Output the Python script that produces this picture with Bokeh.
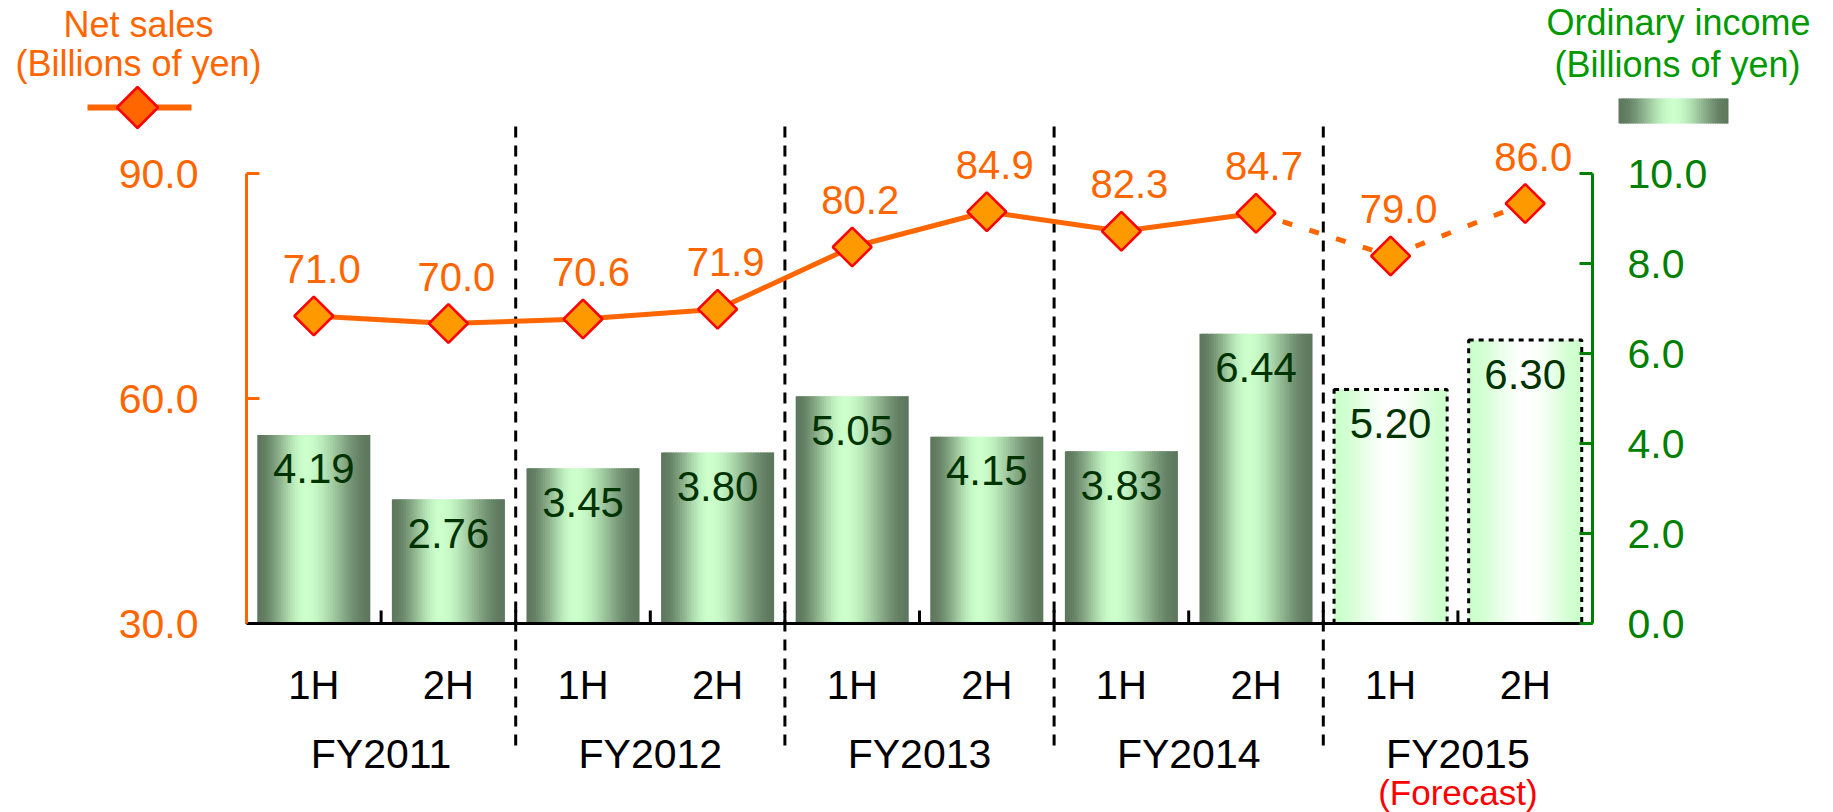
import math
from bokeh.plotting import figure
from bokeh.models import Range1d
from bokeh.core.properties import value
from bokeh.embed import file_html
from bokeh.resources import INLINE

# ---------------- data ----------------
halves = ["1H", "2H", "1H", "2H", "1H", "2H", "1H", "2H", "1H", "2H"]
fiscal_years = ["FY2011", "FY2012", "FY2013", "FY2014", "FY2015"]
net_sales = [71.0, 70.0, 70.6, 71.9, 80.2, 84.9, 82.3, 84.7, 79.0, 86.0]
ordinary_income = [4.19, 2.76, 3.45, 3.80, 5.05, 4.15, 3.83, 6.44, 5.20, 6.30]
forecast_start = 8            # first forecast half-year index
ns_ticks = [30.0, 60.0, 90.0]
oi_ticks = [0.0, 2.0, 4.0, 6.0, 8.0, 10.0]
forecast_note = "(Forecast)"
ns_title = ["Net sales", "(Billions of yen)"]
oi_title = ["Ordinary income", "(Billions of yen)"]

# ---------------- layout / style ----------------
FONT = "Liberation Sans"
ORANGE = "#FF6600"
MARK_FILL = "#FF9900"
GREEN_AX = "#008000"
GREEN_TTL = "#009900"
BAR_TXT = "#003300"

W, H = 1833, 812
X0_PX, X1_PX = 246, 1592
Y_TOP_PX, Y_BOT_PX = 173, 623
n = len(net_sales)
ppx = (X1_PX - X0_PX) / n
ns_lo, ns_hi = ns_ticks[0], ns_ticks[-1]
ppy = (Y_BOT_PX - Y_TOP_PX) / (ns_hi - ns_lo)
oi_lo, oi_hi = oi_ticks[0], oi_ticks[-1]
ppy2 = (Y_BOT_PX - Y_TOP_PX) / (oi_hi - oi_lo)

x_range = Range1d(-X0_PX / ppx, n + (W - X1_PX) / ppx)
y_range = Range1d(ns_lo - (H - Y_BOT_PX) / ppy, ns_hi + Y_TOP_PX / ppy)

p = figure(width=W, height=H, x_range=x_range, y_range=y_range,
           output_backend="svg", toolbar_location=None,
           x_axis_type=None, y_axis_type=None, min_border=0,
           outline_line_color=None, background_fill_color="white")
p.extra_x_ranges = {"px": Range1d(0, W)}
p.extra_y_ranges = {"oi": Range1d(oi_lo - (H - Y_BOT_PX) / ppy2, oi_hi + Y_TOP_PX / ppy2),
                    "px": Range1d(H, 0)}

centers = [i + 0.5 for i in range(n)]


def mix(c1, c2, f):
    r = [round(a + (b - a) * f) for a, b in zip(c1, c2)]
    return "#%02x%02x%02x" % tuple(r)


def grad(t, edge, mid, peak):
    f = t / peak if t <= peak else (1 - t) / (1 - peak)
    f = f * f * (3 - 2 * f)
    return mix(edge, mid, f)


DARK = (0x5E, 0x78, 0x5E)
LIGHT = (0xCC, 0xFF, 0xCC)
FC_EDGE = (0xCC, 0xFF, 0xCC)
WHITE = (0xFF, 0xFF, 0xFF)

NSTRIP = 48
BW = 0.84

# ---------------- bars (gradient strips) ----------------
sl, sr, st, sb, sc = [], [], [], [], []
for i, v in enumerate(ordinary_income):
    left = centers[i] - BW / 2
    dw = BW / NSTRIP
    for j in range(NSTRIP):
        t = (j + 0.5) / NSTRIP
        l = left + j * dw
        r = l + dw + (dw * 0.6 if j < NSTRIP - 1 else 0)
        sl.append(l); sr.append(r); st.append(v); sb.append(oi_lo)
        if i >= forecast_start:
            sc.append(grad(t, FC_EDGE, WHITE, 0.52))
        else:
            sc.append(grad(t, DARK, LIGHT, 0.43))
p.quad(left=sl, right=sr, top=st, bottom=sb, fill_color=sc, line_color=None,
       y_range_name="oi")

fc_idx = list(range(forecast_start, n))
p.quad(left=[centers[i] - BW / 2 for i in fc_idx],
       right=[centers[i] + BW / 2 for i in fc_idx],
       top=[ordinary_income[i] for i in fc_idx], bottom=[oi_lo] * len(fc_idx),
       fill_color=None, line_color="black", line_width=3, line_dash="5 5",
       y_range_name="oi")

p.text(x=centers, y=ordinary_income, text=["%.2f" % v for v in ordinary_income],
       y_range_name="oi", y_offset=34, text_align="center", text_baseline="middle",
       text_font=value(FONT), text_font_size="42px", text_color=BAR_TXT)

# ---------------- separators ----------------
bounds = [2 * k for k in range(1, len(fiscal_years))]
p.segment(x0=bounds, x1=bounds, y0=[126] * len(bounds), y1=[750] * len(bounds),
          y_range_name="px", line_color="black", line_width=3, line_dash="11 8")

# ---------------- axes ----------------
# x axis
p.segment(x0=[0], x1=[n], y0=[ns_lo], y1=[ns_lo], line_color="black", line_width=3)
xt = list(range(n))
p.segment(x0=xt, x1=xt, y0=[Y_BOT_PX] * n, y1=[Y_BOT_PX - 13] * n,
          y_range_name="px", line_color="black", line_width=3)
# left axis
p.segment(x0=[0], x1=[0], y0=[ns_lo], y1=[ns_hi], line_color=ORANGE, line_width=3)
p.segment(x0=[0] * 2, x1=[13 / ppx] * 2, y0=ns_ticks[1:], y1=ns_ticks[1:],
          line_color=ORANGE, line_width=3)
p.text(x=[X0_PX - 48] * len(ns_ticks), y=ns_ticks, text=["%.1f" % v for v in ns_ticks],
       x_range_name="px", text_align="right", text_baseline="middle",
       text_font=value(FONT), text_font_size="41px", text_color=ORANGE)
# right axis
p.segment(x0=[n], x1=[n], y0=[oi_lo], y1=[oi_hi], y_range_name="oi",
          line_color=GREEN_AX, line_width=3)
p.segment(x0=[n] * len(oi_ticks), x1=[n - 13 / ppx] * len(oi_ticks), y0=oi_ticks, y1=oi_ticks,
          y_range_name="oi", line_color=GREEN_AX, line_width=3)
p.text(x=[X1_PX + 35] * len(oi_ticks), y=oi_ticks, text=["%.1f" % v for v in oi_ticks],
       x_range_name="px", y_range_name="oi", text_align="left", text_baseline="middle",
       text_font=value(FONT), text_font_size="41px", text_color=GREEN_AX)

# ---------------- net sales line ----------------
p.line(x=centers[:forecast_start], y=net_sales[:forecast_start], line_color=ORANGE, line_width=5)
p.line(x=centers[forecast_start - 1:], y=net_sales[forecast_start - 1:], line_color=ORANGE,
       line_width=5, line_dash="10 18")
p.scatter(x=centers, y=net_sales, marker="square", angle=math.pi / 4, size=27.5,
          fill_color=MARK_FILL, line_color="red", line_width=2.5)
p.text(x=centers, y=net_sales, text=["%.1f" % v for v in net_sales], x_offset=8, y_offset=-47,
       text_align="center", text_baseline="middle", text_font=value(FONT),
       text_font_size="40px", text_color=ORANGE)

# ---------------- category labels ----------------
p.text(x=centers, y=[Y_BOT_PX + 61] * n, text=halves, y_range_name="px",
       text_align="center", text_baseline="middle", text_font=value(FONT),
       text_font_size="40px", text_color="black")
fy_x = [2 * k + 1 for k in range(len(fiscal_years))]
p.text(x=fy_x, y=[Y_BOT_PX + 130] * len(fy_x), text=fiscal_years, y_range_name="px",
       text_align="center", text_baseline="middle", text_font=value(FONT),
       text_font_size="41px", text_color="black")
p.text(x=[fy_x[-1]], y=[Y_BOT_PX + 169], text=[forecast_note], y_range_name="px",
       text_align="center", text_baseline="middle", text_font=value(FONT),
       text_font_size="35px", text_color="red")

# ---------------- titles / legends ----------------
p.text(x=[138, 138], y=[24, 63], text=ns_title, x_range_name="px", y_range_name="px",
       text_align="center", text_baseline="middle", text_font=value(FONT),
       text_font_size="36px", text_color=ORANGE)
p.text(x=[1678, 1677], y=[22, 64], text=oi_title, x_range_name="px", y_range_name="px",
       text_align="center", text_baseline="middle", text_font=value(FONT),
       text_font_size="36px", text_color=GREEN_TTL)

p.segment(x0=[87], x1=[191], y0=[107], y1=[107], x_range_name="px", y_range_name="px",
          line_color=ORANGE, line_width=6)
p.scatter(x=[137], y=[107], x_range_name="px", y_range_name="px", marker="square",
          angle=math.pi / 4, size=29, fill_color=ORANGE, line_color="red", line_width=2.5)

ll, lr, lc = [], [], []
LX0, LX1 = 1618, 1728
dw = (LX1 - LX0) / NSTRIP
for j in range(NSTRIP):
    t = (j + 0.5) / NSTRIP
    ll.append(LX0 + j * dw)
    lr.append(LX0 + (j + 1) * dw + (0.6 * dw if j < NSTRIP - 1 else 0))
    lc.append(grad(t, DARK, LIGHT, 0.5))
p.quad(left=ll, right=lr, top=[98] * NSTRIP, bottom=[123] * NSTRIP, fill_color=lc,
       line_color=None, x_range_name="px", y_range_name="px")

open("out.html", "w").write(file_html(p, INLINE))
